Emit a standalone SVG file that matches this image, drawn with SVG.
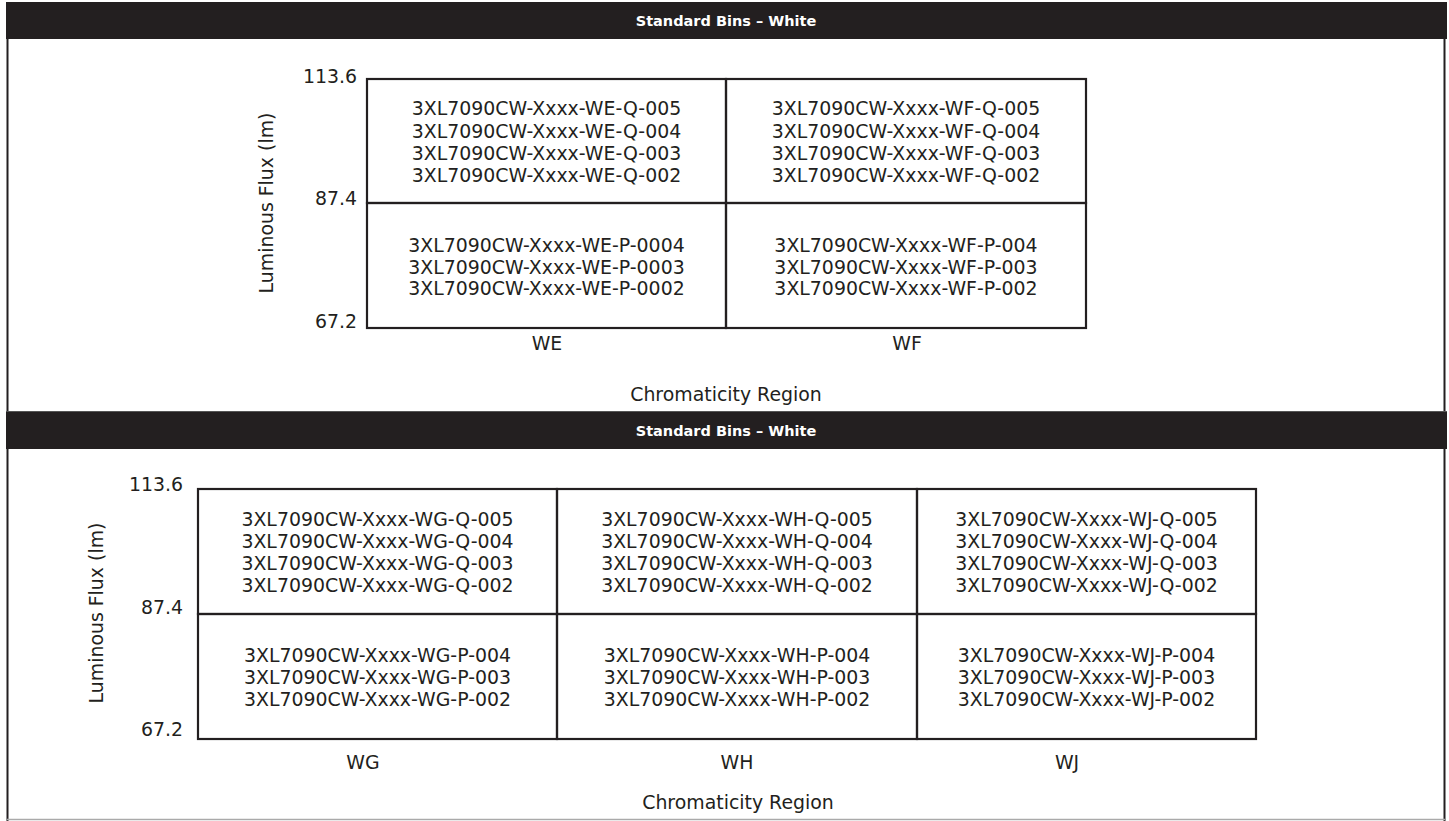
<svg xmlns="http://www.w3.org/2000/svg" width="1449" height="821" viewBox="0 0 1449 821">
<style>
.hdr{fill:#231f20}
.htxt{font-family:"DejaVu Sans","Verdana",sans-serif;font-weight:bold;font-size:14.5px;fill:#ffffff;text-anchor:middle}
.cell{fill:none;stroke:#231f20;stroke-width:2.2}
.t{font-family:"DejaVu Sans","Verdana",sans-serif;font-size:18.9px;fill:#231f20;text-anchor:middle}
.lab{font-family:"DejaVu Sans","Verdana",sans-serif;font-size:18.9px;fill:#231f20}
.frame{stroke:#231f20;stroke-width:2;fill:none}
</style>
<rect x="0" y="0" width="1449" height="821" fill="#ffffff"/>
<g id="frame">
<line class="frame" x1="7.5" y1="39" x2="7.5" y2="821"/>
<line class="frame" x1="1444.5" y1="2" x2="1444.5" y2="821"/>
<line x1="7" y1="819.5" x2="1445" y2="819.5" stroke="#aaaaaa" stroke-width="1.5"/>
</g>
<g id="header1">
<rect class="hdr" x="6" y="2" width="1441" height="37"/>
<text class="htxt" x="726" y="26">Standard Bins – White</text>
</g>
<g id="header2">
<rect class="hdr" x="6" y="411" width="1441" height="38"/>
<line x1="6" y1="411.5" x2="1447" y2="411.5" stroke="#555" stroke-width="1"/>
<text class="htxt" x="726" y="435.5">Standard Bins – White</text>
</g>
<g id="connectors"></g>
<g id="axes-top">
<text class="lab" x="357" y="83" text-anchor="end">113.6</text>
<text class="lab" x="357" y="205" text-anchor="end">87.4</text>
<text class="lab" x="357" y="328" text-anchor="end">67.2</text>
<text class="lab" transform="translate(273,203) rotate(-90)" text-anchor="middle">Luminous Flux (lm)</text>
<text class="lab" x="547" y="350" text-anchor="middle">WE</text>
<text class="lab" x="907" y="350" text-anchor="middle">WF</text>
<text class="lab" x="726" y="401" text-anchor="middle">Chromaticity Region</text>
</g>
<g id="cell-WE-Q">
<rect class="cell" x="367" y="79" width="359" height="124"/>
<text class="t" x="546.5" y="115">3XL7090CW-Xxxx-WE-Q-005</text>
<text class="t" x="546.5" y="137.5">3XL7090CW-Xxxx-WE-Q-004</text>
<text class="t" x="546.5" y="160">3XL7090CW-Xxxx-WE-Q-003</text>
<text class="t" x="546.5" y="182">3XL7090CW-Xxxx-WE-Q-002</text>
</g>
<g id="cell-WF-Q">
<rect class="cell" x="726" y="79" width="360" height="124"/>
<text class="t" x="906" y="115">3XL7090CW-Xxxx-WF-Q-005</text>
<text class="t" x="906" y="137.5">3XL7090CW-Xxxx-WF-Q-004</text>
<text class="t" x="906" y="160">3XL7090CW-Xxxx-WF-Q-003</text>
<text class="t" x="906" y="182">3XL7090CW-Xxxx-WF-Q-002</text>
</g>
<g id="cell-WE-P">
<rect class="cell" x="367" y="203" width="359" height="125"/>
<text class="t" x="546.5" y="252">3XL7090CW-Xxxx-WE-P-0004</text>
<text class="t" x="546.5" y="273.5">3XL7090CW-Xxxx-WE-P-0003</text>
<text class="t" x="546.5" y="295">3XL7090CW-Xxxx-WE-P-0002</text>
</g>
<g id="cell-WF-P">
<rect class="cell" x="726" y="203" width="360" height="125"/>
<text class="t" x="906" y="252">3XL7090CW-Xxxx-WF-P-004</text>
<text class="t" x="906" y="273.5">3XL7090CW-Xxxx-WF-P-003</text>
<text class="t" x="906" y="295">3XL7090CW-Xxxx-WF-P-002</text>
</g>
<g id="axes-bottom">
<text class="lab" x="183" y="491" text-anchor="end">113.6</text>
<text class="lab" x="183" y="614" text-anchor="end">87.4</text>
<text class="lab" x="183" y="736" text-anchor="end">67.2</text>
<text class="lab" transform="translate(103,613) rotate(-90)" text-anchor="middle">Luminous Flux (lm)</text>
<text class="lab" x="363" y="769" text-anchor="middle">WG</text>
<text class="lab" x="737" y="769" text-anchor="middle">WH</text>
<text class="lab" x="1067" y="769" text-anchor="middle">WJ</text>
<text class="lab" x="738" y="809" text-anchor="middle">Chromaticity Region</text>
</g>
<g id="cell-WG-Q">
<rect class="cell" x="198" y="489" width="359" height="125"/>
<text class="t" x="377.5" y="525.5">3XL7090CW-Xxxx-WG-Q-005</text>
<text class="t" x="377.5" y="547.5">3XL7090CW-Xxxx-WG-Q-004</text>
<text class="t" x="377.5" y="569.5">3XL7090CW-Xxxx-WG-Q-003</text>
<text class="t" x="377.5" y="591.5">3XL7090CW-Xxxx-WG-Q-002</text>
</g>
<g id="cell-WH-Q">
<rect class="cell" x="557" y="489" width="360" height="125"/>
<text class="t" x="737" y="525.5">3XL7090CW-Xxxx-WH-Q-005</text>
<text class="t" x="737" y="547.5">3XL7090CW-Xxxx-WH-Q-004</text>
<text class="t" x="737" y="569.5">3XL7090CW-Xxxx-WH-Q-003</text>
<text class="t" x="737" y="591.5">3XL7090CW-Xxxx-WH-Q-002</text>
</g>
<g id="cell-WJ-Q">
<rect class="cell" x="917" y="489" width="339" height="125"/>
<text class="t" x="1086.5" y="525.5">3XL7090CW-Xxxx-WJ-Q-005</text>
<text class="t" x="1086.5" y="547.5">3XL7090CW-Xxxx-WJ-Q-004</text>
<text class="t" x="1086.5" y="569.5">3XL7090CW-Xxxx-WJ-Q-003</text>
<text class="t" x="1086.5" y="591.5">3XL7090CW-Xxxx-WJ-Q-002</text>
</g>
<g id="cell-WG-P">
<rect class="cell" x="198" y="614" width="359" height="125"/>
<text class="t" x="377.5" y="662">3XL7090CW-Xxxx-WG-P-004</text>
<text class="t" x="377.5" y="684">3XL7090CW-Xxxx-WG-P-003</text>
<text class="t" x="377.5" y="706">3XL7090CW-Xxxx-WG-P-002</text>
</g>
<g id="cell-WH-P">
<rect class="cell" x="557" y="614" width="360" height="125"/>
<text class="t" x="737" y="662">3XL7090CW-Xxxx-WH-P-004</text>
<text class="t" x="737" y="684">3XL7090CW-Xxxx-WH-P-003</text>
<text class="t" x="737" y="706">3XL7090CW-Xxxx-WH-P-002</text>
</g>
<g id="cell-WJ-P">
<rect class="cell" x="917" y="614" width="339" height="125"/>
<text class="t" x="1086.5" y="662">3XL7090CW-Xxxx-WJ-P-004</text>
<text class="t" x="1086.5" y="684">3XL7090CW-Xxxx-WJ-P-003</text>
<text class="t" x="1086.5" y="706">3XL7090CW-Xxxx-WJ-P-002</text>
</g>
</svg>
